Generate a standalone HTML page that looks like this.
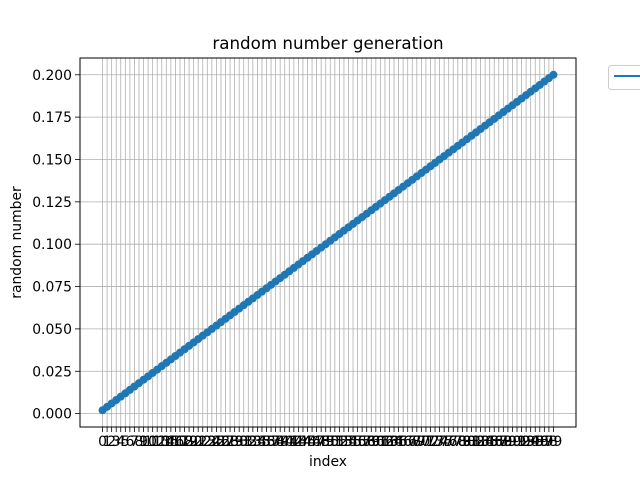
<!DOCTYPE html>
<html><head><meta charset="utf-8"><style>
body{margin:0;background:#fff}
svg{display:block;font-family:"DejaVu Sans","Liberation Sans",sans-serif}
</style></head><body>
<svg id="chart" width="640" height="480" xmlns="http://www.w3.org/2000/svg">
<rect width="640" height="480" fill="#fff"/>
<g id="grid"></g>
<g id="series"></g>
<rect x="80" y="58" width="496" height="369" fill="none" stroke="#000" stroke-width="1"/>
<g id="xticks"></g>
<g id="yticks"></g>
<text x="328" y="49" font-size="16.7" text-anchor="middle">random number generation</text>
<text x="328" y="466" font-size="13.9" text-anchor="middle">index</text>
<text transform="translate(21,242.5) rotate(-90)" font-size="13.9" text-anchor="middle">random number</text>
<g>
<rect x="608.5" y="65.5" width="40" height="24" rx="3" fill="#fff" stroke="#ccc" stroke-width="1"/>
<line x1="614" y1="76" x2="642" y2="76" stroke="#1f77b4" stroke-width="2"/>
</g>
</svg>
<script>
const indices = [];
for (let i = 0; i < 100; i++) indices.push(i);
const values = [0.002,0.004,0.006,0.008,0.010,0.012,0.014,0.016,0.018,0.020,
0.022,0.024,0.026,0.028,0.030,0.032,0.034,0.036,0.038,0.040,
0.042,0.044,0.046,0.048,0.050,0.052,0.054,0.056,0.058,0.060,
0.062,0.064,0.066,0.068,0.070,0.072,0.074,0.076,0.078,0.080,
0.082,0.084,0.086,0.088,0.090,0.092,0.094,0.096,0.098,0.100,
0.102,0.104,0.106,0.108,0.110,0.112,0.114,0.116,0.118,0.120,
0.122,0.124,0.126,0.128,0.130,0.132,0.134,0.136,0.138,0.140,
0.142,0.144,0.146,0.148,0.150,0.152,0.154,0.156,0.158,0.160,
0.162,0.164,0.166,0.168,0.170,0.172,0.174,0.176,0.178,0.180,
0.182,0.184,0.186,0.188,0.190,0.192,0.194,0.196,0.198,0.200];
const yTickValues = [0.000,0.025,0.050,0.075,0.100,0.125,0.150,0.175,0.200];
const yTickLabels = ["0.000","0.025","0.050","0.075","0.100","0.125","0.150","0.175","0.200"];

const NS = "http://www.w3.org/2000/svg";
const L = 80, R = 576, T = 58, B = 427;
const xmin0 = Math.min(...indices), xmax0 = Math.max(...indices);
const xpad = (xmax0 - xmin0) * 0.05;
const xmin = xmin0 - xpad, xmax = xmax0 + xpad;
const ymin0 = Math.min(...values), ymax0 = Math.max(...values);
const ypad = (ymax0 - ymin0) * 0.05;
const ymin = ymin0 - ypad, ymax = ymax0 + ypad;
function xs(v){ return L + (v - xmin) / (xmax - xmin) * (R - L); }
function ys(v){ return B - (v - ymin) / (ymax - ymin) * (B - T); }
function mk(tag, attrs, parent){
  const e = document.createElementNS(NS, tag);
  for (const k in attrs) e.setAttribute(k, attrs[k]);
  parent.appendChild(e); return e;
}
const grid = document.getElementById('grid');
const xt = document.getElementById('xticks');
const yt = document.getElementById('yticks');
const series = document.getElementById('series');

indices.forEach(i => {
  const x = xs(i);
  const g = mk('line', {x1:x, x2:x, y1:T, y2:B, stroke:'#b0b0b0', 'stroke-width':0.8}, grid);
  
  
  const t = mk('line', {x1:x, x2:x, y1:B, y2:B+5, stroke:'#000', 'stroke-width':0.8}, xt);
  
  
  const lb = mk('text', {x:x, y:B+19, 'font-size':13.9, 'text-anchor':'middle'}, xt);
  
  
  lb.textContent = String(i);
});
yTickValues.forEach((v, k) => {
  const y = ys(v);
  const g = mk('line', {x1:L, x2:R, y1:y, y2:y, stroke:'#b0b0b0', 'stroke-width':0.8}, grid);
  
  
  const t = mk('line', {x1:L-5, x2:L, y1:y, y2:y, stroke:'#000', 'stroke-width':0.8}, yt);
  
  
  const lb = mk('text', {x:L-8, y:y+5, 'font-size':13.9, 'text-anchor':'end'}, yt);
  
  
  lb.textContent = yTickLabels[k];
});
const pts = indices.map((i, k) => xs(i).toFixed(2) + ',' + ys(values[k]).toFixed(2)).join(' ');
const line = mk('polyline', {points:pts, fill:'none', stroke:'#1f77b4', 'stroke-width':2}, series);


indices.forEach((i, k) => {
  const c = mk('circle', {cx:xs(i), cy:ys(values[k]), r:4, fill:'#1f77b4'}, series);
  
  
});
</script>
</body></html>
